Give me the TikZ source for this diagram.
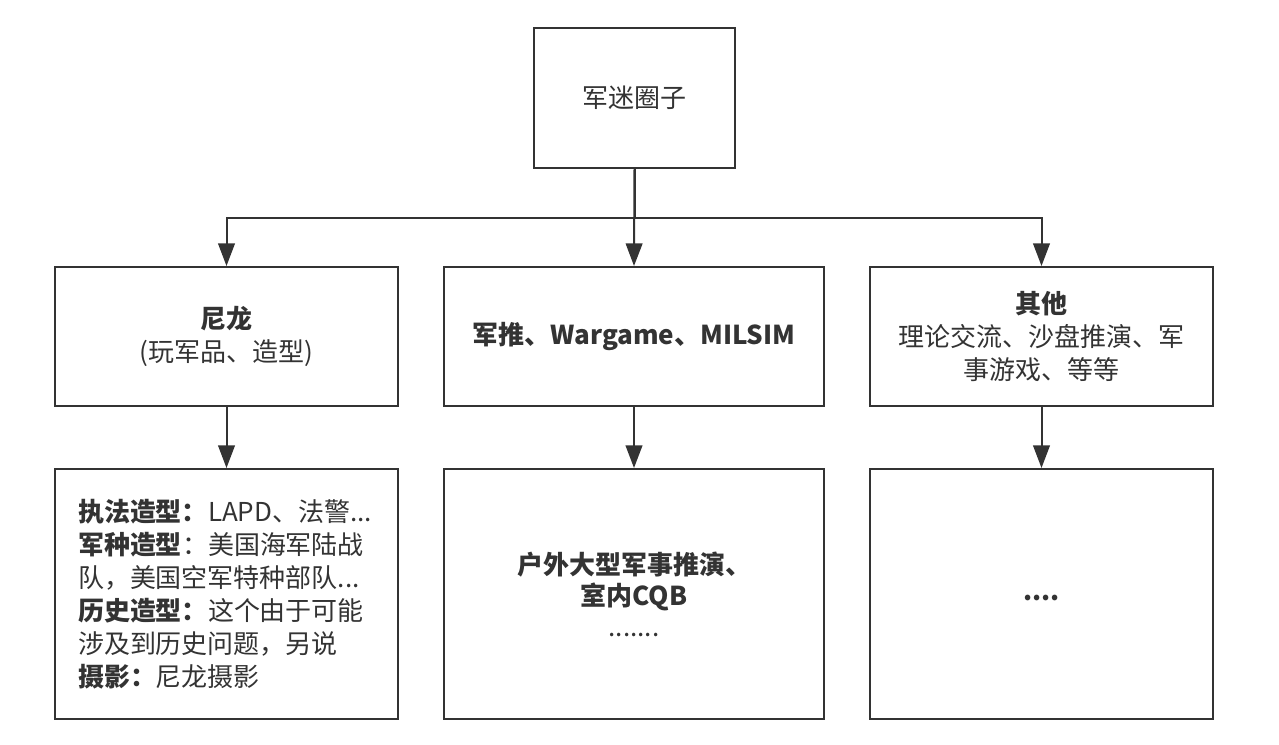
\documentclass[tikz,border=0pt]{standalone}
\usepackage{fontspec}
\setmainfont{Noto Sans CJK SC}
\usetikzlibrary{arrows.meta}
\definecolor{ink}{HTML}{333333}

\begin{document}
\begin{tikzpicture}
        [
            x=0.75pt, y=-0.75pt,
            every node/.style = {text=ink, font=\fontsize{19.5}{25}\selectfont},
            rootsq/.style = {draw=ink, shape=rectangle, minimum width=150.75pt, minimum height=105pt, line width=1.5pt, inner sep=0pt},
            midsq/.style = {draw=ink, shape=rectangle, minimum height=104.25pt, line width=1.5pt, inner sep=0pt, align=center},
            lowsq/.style = {draw=ink, shape=rectangle, minimum height=187.5pt, line width=1.5pt, inner sep=0pt, align=center},
            link/.style = {draw=ink, line width=1.5pt, -{Triangle[length=17pt,width=12.5pt]}},
        ]
        \useasboundingbox (0,0) rectangle (1279,744);

        \node[rootsq] (root) at (634.5,98) {军迷圈子};
        \coordinate (split) at (634.5,218);

        \node[midsq, minimum width=257.25pt] (mida) at (226.5,336.5)   {\textbf{尼龙}\\(玩军品、造型)};
        \node[midsq, minimum width=285pt] (midb) at (634,336.5)        {\textbf{军推、Wargame、MILSIM}};
        \node[midsq, minimum width=257.25pt] (midc) at (1041.5,336.5)  {\textbf{其他}\\理论交流、沙盘推演、军\\事游戏、等等};

        \node[lowsq, minimum width=257.25pt, text width=222.75pt, align=left, font=\fontsize{19.5}{24.75}\selectfont] (bota) at (226.5,594)
            {\textbf{执法造型：}LAPD、法警...\\\textbf{军种造型}：美国海军陆战\\队，美国空军特种部队...\\\textbf{历史造型：}这个由于可能\\涉及到历史问题，另说\\\textbf{摄影：}尼龙摄影};
        \node[lowsq, minimum width=285pt, font=\fontsize{19.5}{23.25}\selectfont] (botb) at (634,594)
            {\textbf{户外大型军事推演、}\\\textbf{室内CQB}\\.......};
        \node[lowsq, minimum width=257.25pt] (botc) at (1041.5,594) {\strut\textbf{....}};

        \draw [link] (root.south) -- (split) -| (mida.north);
        \draw [link] (root.south) -- (midb.north);
        \draw [link] (root.south) -- (split) -| (midc.north);

        \draw [link] (mida.south) -- (bota.north);
        \draw [link] (midb.south) -- (botb.north);
        \draw [link] (midc.south) -- (botc.north);
    \end{tikzpicture}
\end{document}
